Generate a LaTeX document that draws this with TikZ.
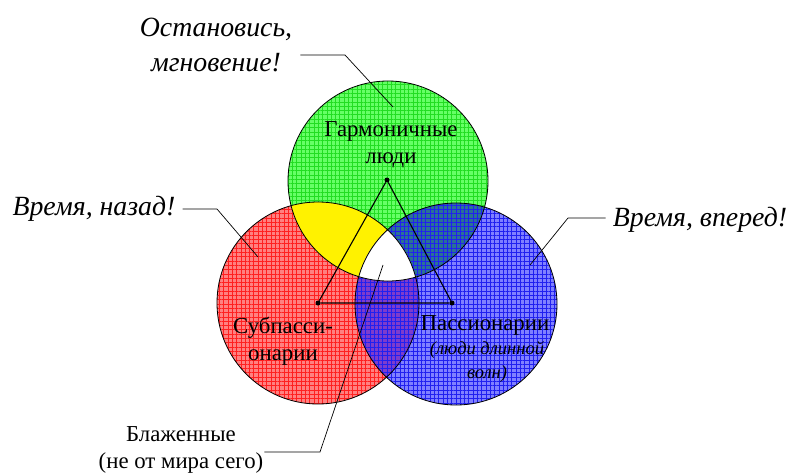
\documentclass[tikz,border=0pt]{standalone}
\usepackage{fontspec}
\setmainfont{Liberation Serif}
\usetikzlibrary{patterns.meta}
\definecolor{greenbase}{HTML}{66FF66}
\definecolor{greenmesh}{HTML}{22DD22}
\definecolor{redbase}{HTML}{FF8080}
\definecolor{redmesh}{HTML}{FF2020}
\definecolor{bluebase}{HTML}{8080FF}
\definecolor{bluemesh}{HTML}{2020F0}
\definecolor{tealbase}{HTML}{2A7296}
\definecolor{violetbase}{HTML}{7E3CCC}
\tikzset{
  mesh/.style={
    postaction={pattern={Lines[angle=0,distance=4.3pt,line width=.6pt]},pattern color=#1},
    postaction={pattern={Lines[angle=90,distance=4.3pt,line width=.6pt]},pattern color=#1}},
  dot/.style={circle, fill, inner sep=0pt, minimum size=5pt},
  lead/.style={draw, line width=.7pt},
  tri/.style={draw, line width=1.1pt},
  plain/.style={inner sep=0pt, align=center, anchor=base, font=\fontsize{22.8}{27}\selectfont},
  motto/.style={inner sep=0pt, align=center, anchor=base, font=\fontsize{27.8}{35}\selectfont\itshape},
  note/.style={inner sep=0pt, align=center, anchor=base, font=\fontsize{18.5}{24}\selectfont\itshape}
}
\begin{document}
\begin{tikzpicture}[x=1pt,y=-1pt]
\useasboundingbox (0,0) rectangle (792,476);
\coordinate (green) at (388,181);
\coordinate (red) at (318,303);
\coordinate (blue) at (456,304);
\def\greenc{(green) circle (100)}
\def\redc{(red) circle (101)}
\def\bluec{(blue) circle (101)}
% circles
\fill[redbase, mesh=redmesh] \redc;
\fill[greenbase, mesh=greenmesh] \greenc;
\fill[bluebase, mesh=bluemesh] \bluec;
% overlaps
\begin{scope}
  \clip \greenc;
  \fill[yellow] \redc;
\end{scope}
\begin{scope}
  \clip \greenc;
  \fill[tealbase, mesh=bluemesh] \bluec;
\end{scope}
\begin{scope}
  \clip \redc;
  \fill[violetbase, mesh=bluemesh] \bluec;
\end{scope}
\begin{scope}
  \clip \redc;
  \clip \greenc;
  \fill[white] \bluec;
\end{scope}
\draw[line width=.8pt] \redc \greenc \bluec;
% triangle
\node[dot] (apexG) at (387,180) {};
\node[dot] (apexR) at (318,303) {};
\node[dot] (apexB) at (452,303) {};
\draw[tri] (apexG) -- (apexR) -- (apexB) -- (apexG);
% labels in circles
\node[plain] (harm) at (391,163) {Гармоничные\\люди};
\node[plain] (sub) at (283,360) {Субпасси-\\онарии};
\node[plain] (pass) at (485,330) {Пассионарии};
\node[note] (passnote) at (487,378) {(люди длинной\\волн)};
% mottos
\node[motto] (stop) at (216,72) {Остановись,\\мгновение!};
\node[motto] (back) at (94,215) {Время, назад!};
\node[motto] (ahead) at (700,226) {Время, вперед!};
\node[plain] (bless) at (181,468) {Блаженные\\(не от мира сего)};
\coordinate (stopbend) at (345,55);
\coordinate (stoptip) at (393,107);
\coordinate (backbend) at (217,209);
\coordinate (backtip) at (258,257);
\coordinate (aheadbend) at (568,218);
\coordinate (aheadtip) at (530,265);
\coordinate (blessbend) at (320,452);
\coordinate (blesstip) at (383,265);
\draw[lead] ([xshift=8pt]stop.east |- stopbend) -- (stopbend) -- (stoptip);
\draw[lead] ([xshift=7pt]back.east |- backbend) -- (backbend) -- (backtip);
\draw[lead] ([xshift=-7pt]ahead.west |- aheadbend) -- (aheadbend) -- (aheadtip);
\draw[lead] ([xshift=1pt]bless.east |- blessbend) -- (blessbend) -- (blesstip);
\end{tikzpicture}
\end{document}
